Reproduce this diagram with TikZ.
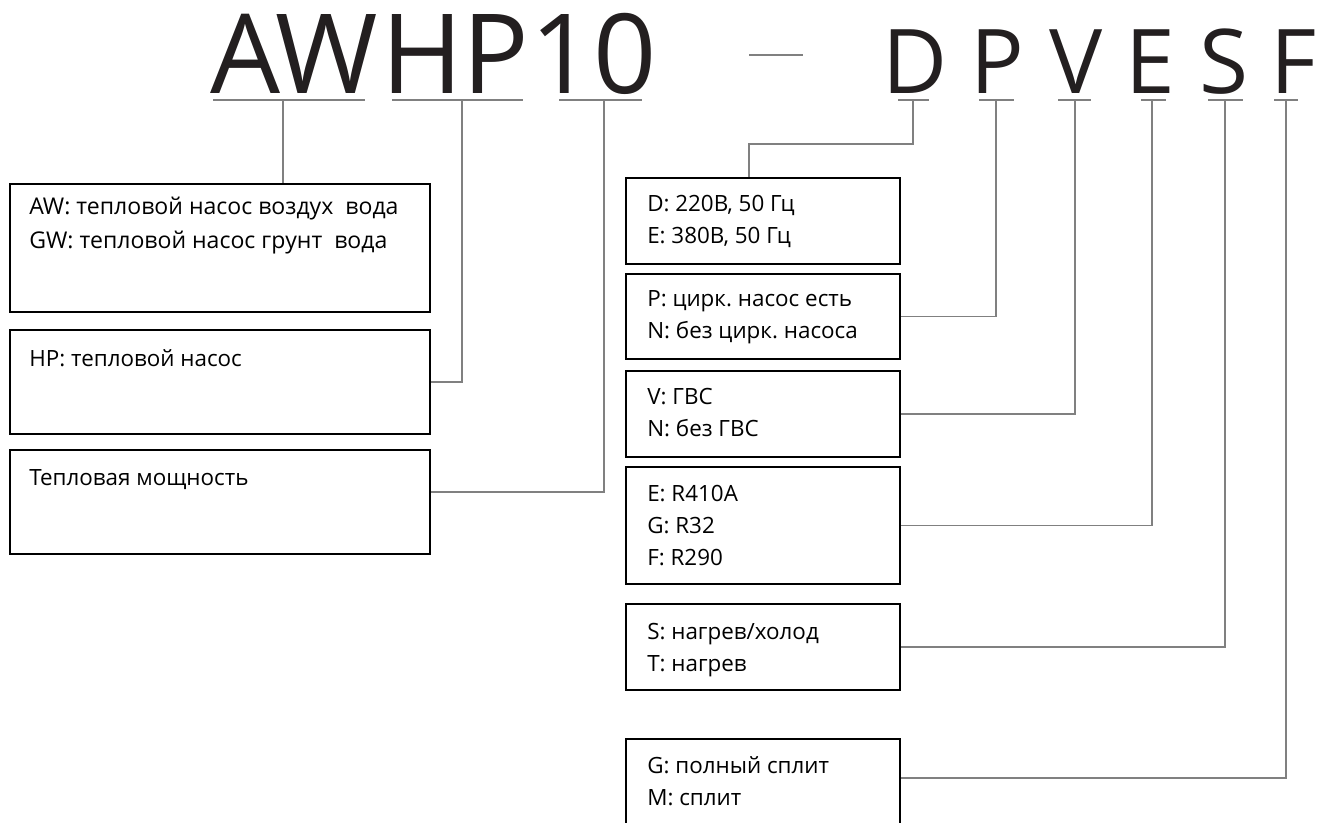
\documentclass[tikz,border=0pt]{standalone}
\usepackage{fontspec}
\setmainfont{Open Sans}
\frenchspacing
\usepackage{tikz}
\usetikzlibrary{positioning, calc}
\definecolor{schrift}{HTML}{231F20}
\definecolor{linie}{HTML}{808080}
\tikzset{
	% riquadro con la spiegazione
	kasten/.style={draw, line width=1.3pt, rectangle, anchor=north west, inner sep=0pt,
	               minimum width=205.5pt},
	% testo nel riquadro
	erkl/.style={anchor=north west, inner sep=0pt, align=left, text=black,
	             font=\fontsize{16.8}{24}\selectfont, execute at begin node={\rule{0pt}{13.5pt}}},
	% lettere grandi del codice
	code/.style={anchor=base west, inner sep=0pt, text=schrift, font=\fontsize{83}{83}\selectfont},
	codeklein/.style={code, font=\fontsize{67}{67}\selectfont},
	% sottolineatura e collegamenti
	strich/.style={linie, line width=1.2pt},
	verb/.style={linie, line width=1.1pt},
}

\begin{document}
\begin{tikzpicture}[x=0.75pt, y=-0.75pt]
    \useasboundingbox (0,0) rectangle (1333,823);
    \clip (0,0) rectangle (1333,823);

    % codice
    \node[code] (cAW) at (210,94) {AW};
    \node[code] (cHP) at (381,94) {HP};
    \node[code, anchor=base east] (cZ) at (657,94) {10};
    \node[codeklein] (cD) at (882,94) {D};
    \node[codeklein] (cP) at (970,94) {P};
    \node[codeklein] (cV) at (1049,94) {V};
    \node[codeklein] (cE) at (1125,94) {E};
    \node[codeklein] (cS) at (1199,94) {S};
    \node[codeklein] (cF) at (1270,94) {F};
    \draw[strich] (749,55) -- (803,55);
    \foreach \a/\b in {213/365, 392/523, 559/642, 898/929, 979/1014, 1058/1091, 1141/1166, 1208/1243, 1274/1298}
        \draw[strich] (\a,100) -- (\b,100);
    \foreach \n/\x in {AW/283, HP/462, Z/604, D/913, P/996, V/1075, E/1152, S/1225, F/1286}
        \coordinate (t\n) at (\x,100);

    % riquadri a sinistra
    \node[kasten, minimum width=315pt, minimum height=96pt] (bAW) at (9,183) {};
    \node[kasten, minimum width=315pt, minimum height=78pt] (bHP) at (9,329) {};
    \node[kasten, minimum width=315pt, minimum height=78pt] (bZ) at (9,449) {};
    \node[erkl, font=\fontsize{17.3}{26}\selectfont, below right=10pt and 15pt of bAW.north west] (xAW)
        {AW: тепловой насос воздух\ \ вода\\GW: тепловой насос грунт\ \ вода};
    \node[erkl, below right=14.25pt and 15pt of bHP.north west] (xHP) {HP: тепловой насос};
    \node[erkl, below right=13.5pt and 15pt of bZ.north west] (xZ) {Тепловая мощность};

    % riquadri a destra
    \node[kasten, minimum height=64.5pt] (bD) at (625,177) {};
    \node[kasten, minimum height=63.75pt] (bP) at (625,273) {};
    \node[kasten, minimum height=64.5pt] (bV) at (625,370) {};
    \node[kasten, minimum height=87.75pt] (bE) at (625,466) {};
    \node[kasten, minimum height=64.5pt] (bS) at (625,603) {};
    \node[kasten, minimum height=71.25pt] (bG) at (625,738) {};
    \node[erkl, below right=13.5pt and 16.5pt of bD.north west] (xD) {D: 220В, 50 Гц\\E: 380В, 50 Гц};
    \node[erkl, below right=12.75pt and 16.5pt of bP.north west] (xP) {P: цирк. насос есть\\N: без цирк. насоса};
    \node[erkl, below right=13.5pt and 16.5pt of bV.north west] (xV) {V: ГВС\\N: без ГВС};
    \node[erkl, below right=14.25pt and 16.5pt of bE.north west] (xE) {E: R410A\\G: R32\\F: R290};
    \node[erkl, below right=15pt and 16.5pt of bS.north west] (xS) {S: нагрев/холод\\T: нагрев};
    \node[erkl, below right=13.5pt and 16.5pt of bG.north west] (xG) {G: полный сплит\\M: сплит};

    % collegamenti
    \coordinate (kD) at (749,144);
    \draw[verb] (tAW) -- (tAW |- bAW.north);
    \draw[verb] (tHP) |- (bHP.east);
    \draw[verb] (tZ) |- ($(bZ.east)+(0,-10)$);
    \draw[verb] (tD) |- (kD) -- (kD |- bD.north);
    \draw[verb] (tP) |- (bP.east);
    \draw[verb] (tV) |- (bV.east);
    \draw[verb] (tE) |- (bE.east);
    \draw[verb] (tS) |- (bS.east);
    \draw[verb] (tF) |- ($(bG.north east)+(0,40)$);
\end{tikzpicture}
\end{document}
